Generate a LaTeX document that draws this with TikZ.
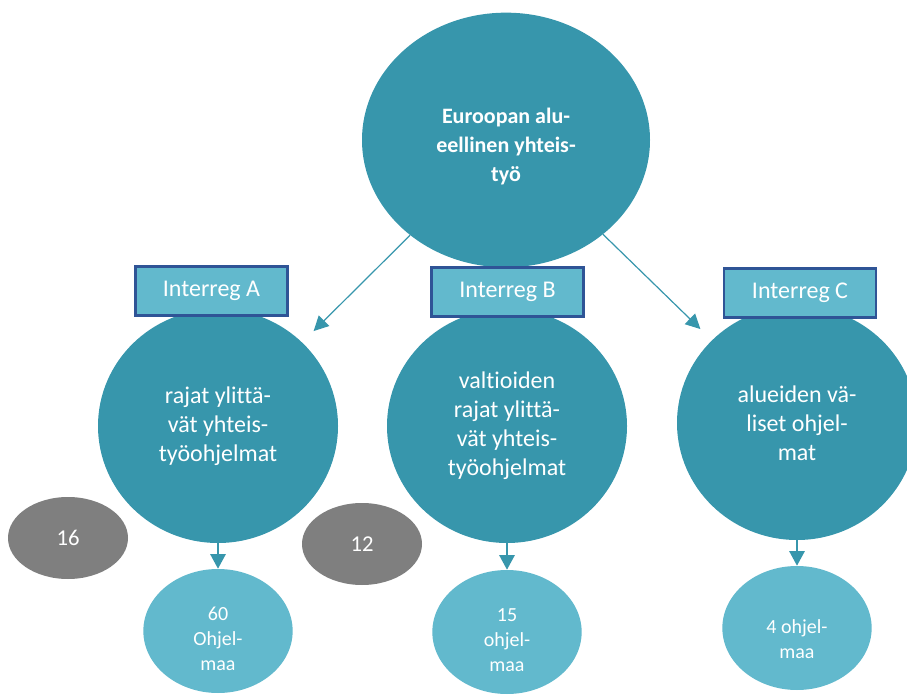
\documentclass[tikz,border=0pt]{standalone}
\usepackage{fontspec}
\setmainfont{Carlito}[Ligatures=CommonOff]
\usetikzlibrary{shapes.geometric, arrows.meta, positioning}
\definecolor{euteal}{RGB}{55,150,172}
\definecolor{eulight}{RGB}{98,185,205}
\definecolor{eublue}{RGB}{47,84,150}
\definecolor{eugray}{RGB}{127,127,127}
\tikzset{every node/.append style={align=center}}
\tikzset{
  main/.style={ellipse, fill=euteal, minimum width=216pt, minimum height=191pt, inner sep=0pt},
  maintext/.style={text=white, font=\fontsize{16.5}{21.75}\selectfont\bfseries, yshift=-5pt},
  prog/.style={ellipse, fill=euteal, text=white, minimum width=180pt, minimum height=175.5pt,
    font=\fontsize{18}{21.75}\selectfont, inner sep=0pt},
  tag/.style={rectangle, draw=eublue, fill=eulight, line width=2pt, text=white,
    minimum width=114pt, minimum height=37pt, font=\fontsize{18}{21}\selectfont},
  cnt/.style={ellipse, fill=eulight, minimum width=112pt, minimum height=93pt, inner sep=0pt},
  cnttext/.style={text=white, font=\fontsize{15}{18.6}\selectfont, yshift=-6pt},
  num/.style={ellipse, fill=eugray, text=white, minimum width=90pt, minimum height=61.5pt,
    font=\fontsize{17}{20}\selectfont},
  arrow/.style={-{Triangle[length=11pt, width=11pt]}, line width=0.9pt, euteal, shorten >=12pt},
  drop/.style={-{Triangle[length=11pt, width=11.5pt]}, line width=1.5pt, euteal}
}
\begin{document}
\begin{tikzpicture}[x=0.75pt, y=-0.75pt]
  \useasboundingbox (0,0) rectangle (907,695);
  \node[main, label={[maintext]center:Euroopan alu-\\eellinen yhteis-\\työ}] (top) at (506,140) {};
  \node[prog] (ca) at (218,426) {rajat ylittä-\\vät yhteis-\\työohjelmat};
  \node[prog] (cb) at (507,426) {valtioiden\\rajat ylittä-\\vät yhteis-\\työohjelmat};
  \node[prog] (cc) at (797,423) {alueiden vä-\\liset ohjel-\\mat};
  \node[tag] (ta) at (211.5,291) {Interreg A};
  \node[tag] (tb) at (507.5,292) {Interreg B};
  \node[tag] (tc) at (800,293) {Interreg C};
  \node[num] (n16) at (68,538) {16};
  \node[num] (n12) at (362,544) {12};
  \node[cnt, label={[cnttext]center:60\\Ohjel-\\maa}] (sa) at (218,631) {};
  \node[cnt, label={[cnttext]center:15\\ohjel-\\maa}] (sb) at (507,632) {};
  \node[cnt, label={[cnttext, yshift=-2.5pt]center:4 ohjel-\\maa}] (sc) at (797,628) {};
  \draw[arrow] (top) -- (ca);
  \draw[arrow] (top) -- (cc);
  \draw[drop] (ca) -- (sa);
  \draw[drop] (cb) -- (sb);
  \draw[drop] (cc) -- (sc);
\end{tikzpicture}
\end{document}
